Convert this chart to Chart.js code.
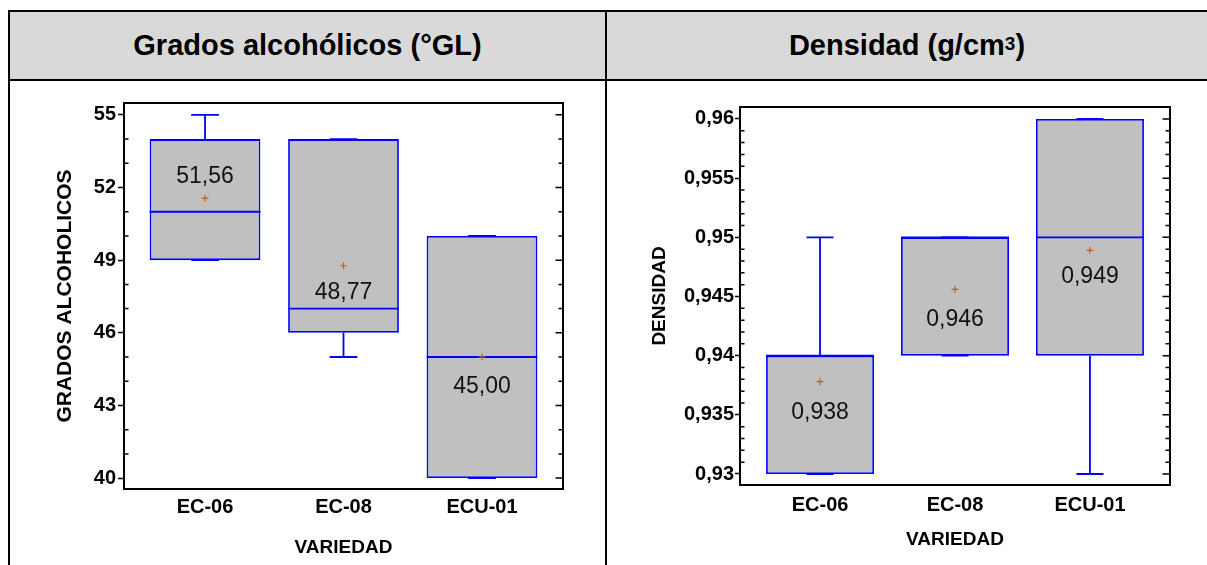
<!DOCTYPE html>
<html lang="es">
<head>
<meta charset="utf-8">
<title>Grados alcohólicos y densidad por variedad</title>
<script src="https://cdn.jsdelivr.net/npm/chart.js@4/dist/chart.umd.min.js"></script>
<style>
  html, body { margin: 0; padding: 0; background: #fff; }
  body { width: 1207px; height: 565px; position: relative; overflow: hidden;
         font-family: "Liberation Sans", Arial, sans-serif; }
  .line { position: absolute; background: #000; }
  .head { position: absolute; top: 12px; height: 67px; background: #d9d9d9;
          display: flex; align-items: center; justify-content: center;
          font-size: 29px; font-weight: bold; color: #000; }
  .head sup { font-size: 19px; position: relative; top: -2px; }
  .cell { position: absolute; top: 81px; height: 484px; }
  canvas { display: block; }
</style>
</head>
<body>
  <div class="head" style="left:10px;width:595px;">Grados alcohólicos (°GL)</div>
  <div class="head" style="left:607px;width:600px;">Densidad (g/cm<sup>3</sup>)</div>
  <div class="line" style="left:8px;top:10px;width:1199px;height:2px;"></div>
  <div class="line" style="left:8px;top:10px;width:2px;height:555px;"></div>
  <div class="line" style="left:10px;top:79px;width:1197px;height:2px;"></div>
  <div class="line" style="left:605px;top:12px;width:2px;height:553px;"></div>
  <div class="cell" style="left:10px;width:595px;"><canvas id="grados" width="595" height="484"></canvas></div>
  <div class="cell" style="left:607px;width:600px;"><canvas id="densidad" width="600" height="484"></canvas></div>

<script>
// Varieties on the horizontal axis
const categories = ['EC-06', 'EC-08', 'ECU-01'];

// Alcohol content (°GL): box-and-whisker summary per variety
const gradosMin    = [49, 45, 40];
const gradosQ1     = [49, 46, 40];
const gradosMedian = [51, 47, 45];
const gradosQ3     = [54, 54, 50];
const gradosMax    = [55, 54, 50];
const gradosMean   = [51.56, 48.77, 45.00];
const gradosTicks  = [40, 43, 46, 49, 52, 55];

// Density (g/cm3): box-and-whisker summary per variety
const densMin    = [0.930, 0.940, 0.930];
const densQ1     = [0.930, 0.940, 0.940];
const densMedian = [0.940, 0.950, 0.950];
const densQ3     = [0.940, 0.950, 0.960];
const densMax    = [0.950, 0.950, 0.960];
const densMean   = [0.9378, 0.9456, 0.9489];
const densTicks  = [0.93, 0.935, 0.94, 0.945, 0.95, 0.955, 0.96];

const FONT = "'Liberation Sans', Arial, sans-serif";
Chart.defaults.font.family = FONT;
Chart.defaults.color = '#000';

const BOX_HALF = 0.4;   // half box width, in category units
const CAP_HALF = 0.1;   // half whisker-cap width
const BLUE = '#0000ff';
const STROKE = 1.8;

function whiskerPoints(mins, q1s, q3s, maxs) {
  const pts = [];
  categories.forEach((_, i) => {
    const x = i + 1;
    pts.push({ x, y: q3s[i] }, { x, y: maxs[i] }, { x, y: null });
    pts.push({ x: x - CAP_HALF, y: maxs[i] }, { x: x + CAP_HALF, y: maxs[i] }, { x, y: null });
    pts.push({ x, y: q1s[i] }, { x, y: mins[i] }, { x, y: null });
    pts.push({ x: x - CAP_HALF, y: mins[i] }, { x: x + CAP_HALF, y: mins[i] }, { x, y: null });
  });
  return pts;
}

function medianPoints(meds) {
  const pts = [];
  meds.forEach((m, i) => {
    const x = i + 1;
    pts.push({ x: x - BOX_HALF, y: m }, { x: x + BOX_HALF, y: m }, { x, y: null });
  });
  return pts;
}

function findMajor(labels, v) {
  return labels.find(t => Math.abs(t - v) < 1e-7);
}

// Closes the plot frame, adds the inner tick marks and writes the mean values
const boxExtras = {
  id: 'boxExtras',
  afterDatasetsDraw(chart, args, o) {
    const { ctx, chartArea: a, scales: { x, y } } = chart;
    ctx.save();
    ctx.strokeStyle = '#000';
    ctx.lineCap = 'square';
    ctx.lineWidth = 2;
    ctx.beginPath();
    ctx.moveTo(a.left, a.top);
    ctx.lineTo(a.right, a.top);
    ctx.lineTo(a.right, a.bottom);
    ctx.stroke();

    ctx.lineCap = 'butt';
    ctx.lineWidth = 1.5;
    ctx.beginPath();
    y.ticks.forEach(t => {
      const py = y.getPixelForValue(t.value);
      const major = findMajor(o.ticks, t.value) !== undefined;
      if (!major) {
        ctx.moveTo(a.left, py);
        ctx.lineTo(a.left + 4.5, py);
      }
      ctx.moveTo(a.right, py);
      ctx.lineTo(a.right - (major ? 7.5 : 4.5), py);
    });
    ctx.stroke();

    ctx.fillStyle = '#111';
    ctx.font = '23px ' + FONT;
    ctx.textAlign = 'center';
    ctx.textBaseline = 'middle';
    o.mean.forEach((m, i) => {
      const px = x.getPixelForValue(i + 1);
      const py = y.getPixelForValue(m) + o.labelShift[i];
      ctx.fillText(m.toFixed(o.decimals).replace('.', ','), px, py);
    });
    ctx.restore();
  }
};

function buildChart(id, s) {
  const xs = categories.map((_, i) => i + 1);
  return new Chart(document.getElementById(id), {
    type: 'bar',
    data: {
      datasets: [
        {
          type: 'line', label: 'Media',
          data: xs.map((x, i) => ({ x, y: s.mean[i] })),
          showLine: false, pointStyle: 'cross', pointRadius: 3.5,
          pointBorderWidth: 1.2, pointBorderColor: '#b8621e', order: 0
        },
        {
          type: 'line', label: 'Mediana', data: medianPoints(s.median),
          borderColor: BLUE, borderWidth: STROKE, pointRadius: 0, spanGaps: false, order: 1
        },
        {
          type: 'line', label: 'Bigotes', data: whiskerPoints(s.min, s.q1, s.q3, s.max),
          borderColor: BLUE, borderWidth: STROKE, pointRadius: 0, spanGaps: false, order: 2
        },
        {
          type: 'bar', label: 'Caja',
          data: xs.map((x, i) => ({ x, y: [s.q1[i], s.q3[i]] })),
          backgroundColor: '#c0c0c0', borderColor: BLUE, borderWidth: STROKE,
          borderSkipped: false, barPercentage: 0.8, categoryPercentage: 1, order: 3
        }
      ]
    },
    options: {
      responsive: false,
      animation: false,
      devicePixelRatio: 1,
      layout: { padding: { left: 0, top: s.padTop, right: s.padRight, bottom: 0 } },
      plugins: {
        legend: { display: false },
        tooltip: { enabled: false },
        boxExtras: { ticks: s.ticks, mean: s.mean, decimals: s.decimals, labelShift: s.labelShift }
      },
      scales: {
        x: {
          type: 'linear', offset: false,
          min: s.xMin, max: s.xMax,
          afterFit: sc => { sc.height = s.xHeight; },
          grid: { display: false, drawTicks: false },
          border: { display: true, color: '#000', width: 2 },
          ticks: {
            stepSize: 1, includeBounds: false, autoSkip: false, maxRotation: 0,
            padding: s.xTickPad, color: '#000',
            font: { size: 20, weight: 'bold' },
            callback: v => categories[Math.round(v) - 1] || ''
          },
          title: {
            display: true, text: 'VARIEDAD', color: '#000',
            font: { size: 19, weight: 'bold' },
            padding: { top: 0, bottom: s.xTitlePad }
          }
        },
        y: {
          type: 'linear',
          min: s.yMin, max: s.yMax,
          afterFit: sc => { sc.width = s.yWidth; },
          grid: {
            display: true, drawOnChartArea: false, drawTicks: true,
            tickLength: s.tickLen, tickWidth: 1.5,
            tickColor: c => findMajor(s.ticks, c.tick.value) !== undefined ? '#000' : 'rgba(0,0,0,0)'
          },
          border: { display: true, color: '#000', width: 2 },
          ticks: {
            stepSize: s.minorStep, includeBounds: false, autoSkip: false,
            padding: s.yTickPad, color: '#000',
            font: { size: s.yTickSize, weight: 'bold' },
            callback: v => {
              const t = findMajor(s.ticks, v);
              return t === undefined ? '' : String(t).replace('.', ',');
            }
          },
          title: {
            display: true, text: s.yTitle, color: '#000',
            font: { size: s.yTitleSize, weight: 'bold' },
            padding: { top: s.yTitlePad, bottom: 0 }
          }
        }
      }
    },
    plugins: [boxExtras]
  });
}

buildChart('grados', {
  min: gradosMin, q1: gradosQ1, median: gradosMedian, q3: gradosQ3, max: gradosMax,
  mean: gradosMean, ticks: gradosTicks, decimals: 2, labelShift: [-22, 27, 30],
  yTitle: 'GRADOS ALCOHOLICOS', yTitleSize: 21, minorStep: 1, yMin: 39.55, yMax: 55.49,
  xMin: 0.415, xMax: 3.585,
  padTop: 22, padRight: 42, yWidth: 114, xHeight: 76,
  tickLen: 6, yTickPad: 2, yTickSize: 20, yTitlePad: 42.4,
  xTickPad: 6.5, xTitlePad: 5.6
});

buildChart('densidad', {
  min: densMin, q1: densQ1, median: densMedian, q3: densQ3, max: densMax,
  mean: densMean, ticks: densTicks, decimals: 3, labelShift: [31, 30, 26],
  yTitle: 'DENSIDAD', yTitleSize: 19, minorStep: 0.001, yMin: 0.92907, yMax: 0.96101,
  xMin: 0.407, xMax: 3.593,
  padTop: 26, padRight: 37, yWidth: 133, xHeight: 80,
  tickLen: 5, yTickPad: 1, yTickSize: 20, yTitlePad: 41.6,
  xTickPad: 8, xTitlePad: 13.6
});
</script>
</body>
</html>
